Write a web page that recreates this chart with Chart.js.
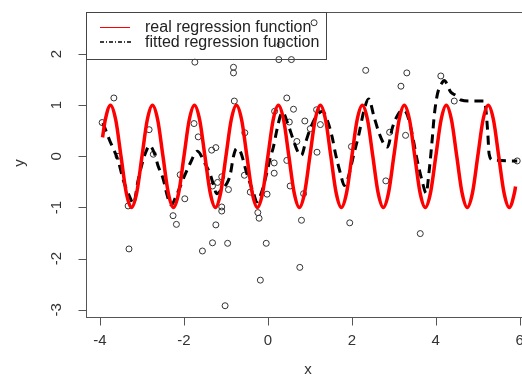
<!DOCTYPE html>
<html>
<head>
<meta charset="utf-8">
<script src="https://cdn.jsdelivr.net/npm/chart.js@4"></script>
<style>
  html, body { margin: 0; padding: 0; background: #fff; overflow: hidden; width: 522px; height: 376px; }
  canvas { display: block; }
</style>
</head>
<body>
<canvas id="plot" width="540" height="376" style="width:540px;height:376px"></canvas>
<script>
// observed points
let ptX = [-3.95, -3.67, -3.57, -3.33, -3.31, -2.83, -2.73, -2.09, -1.98, -2.26, -2.18,
  -1.74, -1.76, -1.66, -1.34, -1.24, -1.10, -1.20, -1.32, -0.94, -1.10, -1.10, -1.24,
  -1.32, -1.56, -0.96, -1.02, -0.82, -0.82, -0.80, -0.55, -0.56, -0.42, -0.02, -0.24,
  -0.21, -0.04, -0.18, 0.15, 0.15, 0.45, 0.53, 0.80, 0.76, 0.85, 0.26, 0.56, 0.29,
  1.10, 0.45, 0.16, 0.61, 0.51, 0.88, 0.69, 1.16, 1.25, 1.01, 1.17, 1.99, 2.33, 3.31,
  3.17, 2.90, 3.28, 2.81, 1.95, 3.63, 4.12, 4.44, 5.94];
let ptY = [0.66, 1.14, 0.00, -0.97, -1.81, 0.52, 0.04, -0.36, -0.83, -1.16, -1.33,
  1.84, 0.64, 0.38, 0.12, 0.17, -0.40, -0.51, -0.58, -0.65, -0.99, -1.07, -1.34,
  -1.69, -1.85, -1.70, -2.92, 1.74, 1.63, 1.08, 0.46, -0.37, -0.70, -0.74, -1.10,
  -1.21, -1.70, -2.42, -0.13, -0.33, -0.08, -0.58, -1.25, -2.17, -0.73, 1.89, 1.89, 2.18,
  2.61, 1.14, 0.88, 0.92, 0.67, 0.69, 0.29, 0.91, 0.62, 0.54, 0.08, 0.19, 1.68, 1.63,
  1.37, 0.47, 0.41, -0.48, -1.30, -1.51, 1.57, 1.08, -0.09];

// real regression function (red)
let realX = [-3.94,
  -3.875, -3.75, -3.625, -3.5, -3.375, -3.25, -3.125, -3,
  -2.875, -2.75, -2.625, -2.5, -2.375, -2.25, -2.125, -2,
  -1.875, -1.75, -1.625, -1.5, -1.375, -1.25, -1.125, -1,
  -0.875, -0.75, -0.625, -0.5, -0.375, -0.25, -0.125, 0,
  0.125, 0.25, 0.375, 0.5, 0.625, 0.75, 0.875, 1,
  1.125, 1.25, 1.375, 1.5, 1.625, 1.75, 1.875, 2,
  2.125, 2.25, 2.375, 2.5, 2.625, 2.75, 2.875, 3,
  3.125, 3.25, 3.375, 3.5, 3.625, 3.75, 3.875, 4,
  4.125, 4.25, 4.375, 4.5, 4.625, 4.75, 4.875, 5,
  5.125, 5.25, 5.375, 5.5, 5.625, 5.75, 5.875, 5.9];
let realY = [0.37,
  0.71, 1, 0.71, 0, -0.71, -1, -0.71, 0,
  0.71, 1, 0.71, 0, -0.71, -1, -0.71, 0,
  0.71, 1, 0.71, 0, -0.71, -1, -0.71, 0,
  0.71, 1, 0.71, 0, -0.71, -1, -0.71, 0,
  0.71, 1, 0.71, 0, -0.71, -1, -0.71, 0,
  0.71, 1, 0.71, 0, -0.71, -1, -0.71, 0,
  0.71, 1, 0.71, 0, -0.71, -1, -0.71, 0,
  0.71, 1, 0.71, 0, -0.71, -1, -0.71, 0,
  0.71, 1, 0.71, 0, -0.71, -1, -0.71, 0,
  0.71, 1, 0.71, 0, -0.71, -1, -0.71, -0.59];

// fitted regression function (black dashed)
let fitX = [-3.93, -3.77, -3.57, -3.45, -3.3, -3.2, -3.1, -3.0, -2.9, -2.82, -2.7, -2.62,
  -2.5, -2.38, -2.3, -2.2, -2.06, -1.98, -1.86, -1.68, -1.5, -1.38, -1.3, -1.22, -1.1,
  -0.98, -0.9, -0.82, -0.75, -0.66, -0.5, -0.35, -0.26, -0.15, -0.02, 0.05, 0.13, 0.21,
  0.3, 0.35, 0.49, 0.61, 0.72, 0.8, 0.89, 1.01, 1.15, 1.3, 1.37, 1.53, 1.61, 1.73, 1.82,
  1.9, 2.05, 2.17, 2.29, 2.4, 2.53, 2.65, 2.78, 2.85, 2.97, 3.09, 3.2, 3.3, 3.42, 3.55,
  3.68, 3.77, 3.84, 3.92, 3.96, 4.04, 4.16, 4.2, 4.36, 4.48, 4.6, 4.84, 5.16, 5.2, 5.24,
  5.27, 5.35, 5.94];
let fitY = [0.65, 0.31, -0.08, -0.45, -0.78, -0.92, -0.5, -0.15, 0.1, 0.21, 0.05, -0.18,
  -0.43, -0.82, -0.95, -0.8, -0.53, -0.37, -0.15, 0.1, -0.14, -0.34, -0.55, -0.73, -0.65,
  -0.53, -0.37, 0.0, 0.15, 0.1, -0.34, -0.7, -0.89, -0.7, -0.3, -0.05, 0.18, 0.5,
  0.8, 0.86, 0.6, 0.31, 0.08, 0.02, 0.25, 0.54, 0.78, 0.88, 0.8, 0.38, 0.05, -0.34, -0.57,
  -0.45, 0.05, 0.44, 0.9, 1.12, 0.77, 0.45, 0.22, 0.18, 0.57, 0.8, 0.9, 0.85, 0.5, -0.05,
  -0.5, -0.72, -0.3, 0.38, 0.77, 1.22, 1.45, 1.48, 1.25, 1.19, 1.1, 1.08, 1.08, 0.86, 0.44,
  0.05, -0.07, -0.09];

let xTicks = [-4, -2, 0, 2, 4, 6];
let yTicks = [-3, -2, -1, 0, 1, 2];
let legendLabels = ["real regression function", "fitted regression function"];

function pairs(xs, ys) {
  return xs.map((x, i) => ({ x: x, y: ys[i] }));
}

// R style box, axes and legend
let rAxes = {
  id: "rAxes",
  afterDatasetsDraw(chart) {
    let ctx = chart.ctx;
    let a = chart.chartArea;
    let sx = chart.scales.x, sy = chart.scales.y;
    ctx.save();
    ctx.strokeStyle = "#555";
    ctx.lineWidth = 1;
    ctx.setLineDash([]);
    ctx.strokeRect(a.left + 0.5, a.top + 0.5, a.right - a.left, a.bottom - a.top);

    ctx.fillStyle = "#333";
    ctx.font = "15px 'Liberation Sans', Arial, sans-serif";

    // x axis
    let x0 = Math.round(sx.getPixelForValue(xTicks[0])) + 0.5;
    let x1 = Math.round(sx.getPixelForValue(xTicks[xTicks.length - 1])) + 0.5;
    let by = Math.round(a.bottom) + 0.5;
    ctx.beginPath();
    ctx.moveTo(x0, by); ctx.lineTo(x1, by);
    xTicks.forEach(t => {
      let px = Math.round(sx.getPixelForValue(t)) + 0.5;
      ctx.moveTo(px, by); ctx.lineTo(px, by + 8);
    });
    ctx.stroke();
    ctx.textAlign = "center";
    ctx.textBaseline = "middle";
    xTicks.forEach(t => {
      ctx.fillText(String(t), sx.getPixelForValue(t), 341);
    });
    ctx.fillText("x", 308, 370);

    // y axis
    let y0 = Math.round(sy.getPixelForValue(yTicks[0])) + 0.5;
    let y1 = Math.round(sy.getPixelForValue(yTicks[yTicks.length - 1])) + 0.5;
    let lx = Math.round(a.left) + 0.5;
    ctx.beginPath();
    ctx.moveTo(lx, y0); ctx.lineTo(lx, y1);
    yTicks.forEach(t => {
      let py = Math.round(sy.getPixelForValue(t)) + 0.5;
      ctx.moveTo(lx, py); ctx.lineTo(lx - 8, py);
    });
    ctx.stroke();
    yTicks.forEach(t => {
      ctx.save();
      ctx.translate(57, sy.getPixelForValue(t));
      ctx.rotate(-Math.PI / 2);
      ctx.fillText(String(t), 0, 0);
      ctx.restore();
    });
    ctx.save();
    ctx.translate(20, 163);
    ctx.rotate(-Math.PI / 2);
    ctx.fillText("y", 0, 0);
    ctx.restore();

    // legend
    ctx.strokeStyle = "#444";
    ctx.strokeRect(a.left + 0.5, a.top + 0.5, 240, 47);
    ctx.lineWidth = 1;
    ctx.strokeStyle = "#ff0000";
    ctx.beginPath();
    ctx.moveTo(100, 27.5); ctx.lineTo(130, 27.5);
    ctx.stroke();
    ctx.lineWidth = 1.3;
    ctx.strokeStyle = "#000";
    ctx.setLineDash([4, 2, 1, 2]);
    ctx.beginPath();
    ctx.moveTo(100, 42); ctx.lineTo(131, 42);
    ctx.stroke();
    ctx.setLineDash([]);
    ctx.font = "16px 'Liberation Sans', Arial, sans-serif";
    ctx.textAlign = "left";
    ctx.fillStyle = "#222";
    ctx.fillText(legendLabels[0], 145, 28);
    ctx.fillText(legendLabels[1], 145, 43);
    ctx.restore();
  }
};

new Chart(document.getElementById("plot"), {
  type: "scatter",
  data: {
    datasets: [
      {
        label: legendLabels[0],
        data: pairs(realX, realY),
        showLine: true,
        borderColor: "#ff0000",
        borderWidth: 3.5,
        pointRadius: 0,
        cubicInterpolationMode: "monotone",
        order: 1
      },
      {
        label: legendLabels[1],
        data: pairs(fitX, fitY),
        showLine: true,
        borderColor: "#000",
        borderWidth: 3,
        borderDash: [9, 6],
        pointRadius: 0,
        cubicInterpolationMode: "monotone",
        order: 2
      },
      {
        label: "data",
        data: pairs(ptX, ptY),
        showLine: false,
        pointStyle: "circle",
        pointRadius: 3,
        borderWidth: 1,
        borderColor: "#333",
        backgroundColor: "rgba(0,0,0,0)",
        order: 3
      }
    ]
  },
  options: {
    responsive: false,
    devicePixelRatio: 1,
    animation: false,
    layout: { padding: { left: 86, top: 12, right: 6, bottom: 59 } },
    scales: {
      x: { type: "linear", min: -4.334, max: 6.34, display: false },
      y: { type: "linear", min: -3.14, max: 2.82, display: false }
    },
    plugins: {
      legend: { display: false },
      tooltip: { enabled: false }
    }
  },
  plugins: [rAxes]
});
</script>
</body>
</html>
